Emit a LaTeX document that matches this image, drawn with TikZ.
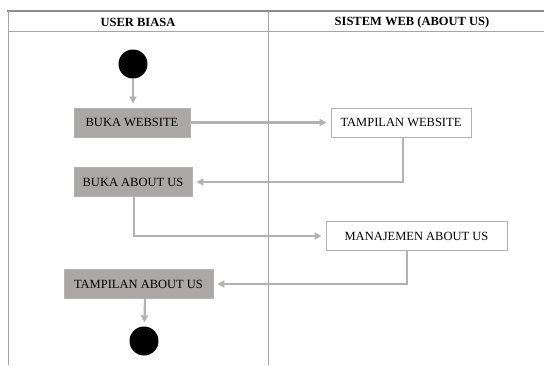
\documentclass[tikz,border=0pt]{standalone}
\usepackage{fontspec}
\setmainfont{Liberation Serif}
\usetikzlibrary{arrows.meta}
\definecolor{actfill}{RGB}{171,167,167}
\definecolor{lineg}{RGB}{178,178,178}
\definecolor{frameg}{RGB}{165,165,165}
\begin{document}
\begin{tikzpicture}[x=1pt,y=-1pt,
  frame/.style={draw=frameg,line width=0.8pt},
  act/.style={draw=lineg,fill=actfill,line width=0.8pt,minimum height=29pt,inner sep=0pt,font=\fontsize{12.5}{12.5}\selectfont},
  sysact/.style={draw=lineg,fill=white,line width=0.9pt,minimum height=29pt,inner sep=0pt,font=\fontsize{12.5}{12.5}\selectfont},
  flow/.style={draw=lineg,line width=2.2pt,-{Triangle[length=7pt,width=7pt]},shorten >=4pt},
  dot/.style={circle,fill=black,inner sep=0pt,minimum size=29pt}]
\useasboundingbox (0,0) rectangle (544,365);
% frame
\draw[draw=black!45,line width=2.8pt] (7,11) -- (544,11);
\coordinate (tl) at (8,11);
\coordinate (bl) at (8,365);
\draw[frame] (tl) -- (bl);
\coordinate (hl) at (8,31);
\coordinate (hr) at (544,31);
\draw[frame] (hl) -- (hr);
\coordinate (dt) at (268.5,11);
\coordinate (db) at (268.5,365);
\draw[frame] (dt) -- (db);
\node[font=\fontsize{12.5}{12.5}\selectfont\bfseries] (h1) at (138,22) {USER BIASA};
\node[font=\fontsize{12.5}{12.5}\selectfont\bfseries] (h2) at (412,22) {SISTEM WEB (ABOUT US)};
% nodes
\node[dot] (start) at (133,64) {};
\node[act,minimum width=116pt] (a1) at (132,122.5) {BUKA WEBSITE};
\node[sysact,minimum width=140pt] (s1) at (401,122.5) {TAMPILAN WEBSITE};
\node[act,minimum width=118pt] (a2) at (133,182) {BUKA ABOUT US};
\node[sysact,minimum width=181pt] (s2) at (416.5,236) {MANAJEMEN ABOUT US};
\node[act,minimum width=149pt] (a3) at (138.5,284) {TAMPILAN ABOUT US};
\node[dot] (end) at (144,341) {};
% connectors
\draw[flow] (start) -- (start |- a1.north);
\draw[flow] (a1) -- (s1);
\draw[flow] (s1.south -| 403,0) |- (a2.east);
\draw[flow] (a2.south -| 134,0) |- (s2.west);
\draw[flow] (s2.south -| 407,0) |- (a3.east);
\draw[flow] (a3.south -| 145,0) -- (end);
\end{tikzpicture}
\end{document}
